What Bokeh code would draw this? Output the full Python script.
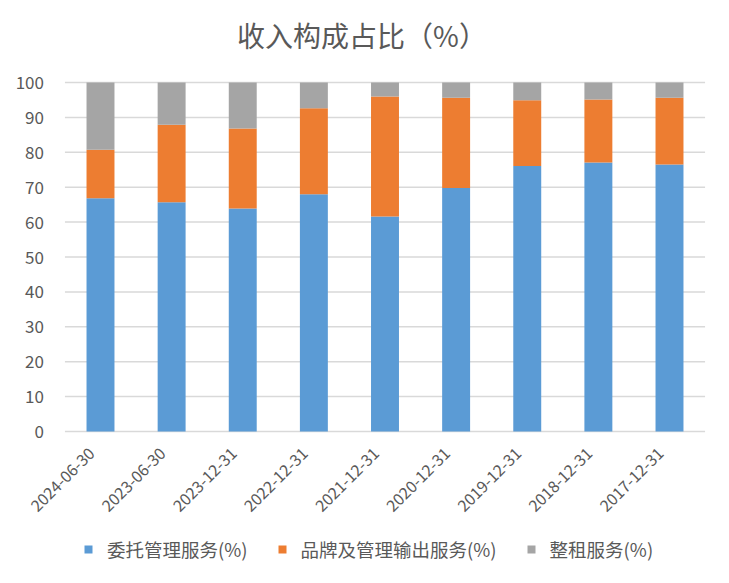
import math
from bokeh.plotting import figure
from bokeh.models import ColumnDataSource, Legend, LegendItem, Range1d
from bokeh.embed import file_html
from bokeh.resources import INLINE
from bokeh.core.properties import value

categories = ["2024-06-30", "2023-06-30", "2023-12-31", "2022-12-31", "2021-12-31",
              "2020-12-31", "2019-12-31", "2018-12-31", "2017-12-31"]
trust = [66.8, 65.7, 63.9, 68.0, 61.6, 69.8, 76.1, 77.1, 76.5]
brand = [13.9, 22.2, 22.9, 24.6, 34.4, 25.8, 18.8, 18.0, 19.1]
lease = [19.3, 12.1, 13.2, 7.4, 4.0, 4.4, 5.1, 4.9, 4.4]
series_names = ["委托管理服务(%)", "品牌及管理输出服务(%)", "整租服务(%)"]
y_ticks = [0, 10, 20, 30, 40, 50, 60, 70, 80, 90, 100]
title_text = "收入构成占比（%）"

colors = ["#5B9BD5", "#ED7D31", "#A5A5A5"]
FONT = "Noto Sans CJK SC"
TXT = "#595959"
GRID = "#D9D9D9"

# canvas geometry (pixels)
W, H = 713, 567
X_FIRST, X_LAST = 100, 669        # centres of first / last category
Y_TOP, Y_ZERO = 82, 431           # pixel rows of value 100 and value 0

n = len(categories)
px_per_cat = (X_LAST - X_FIRST) / (n - 1)
px_per_unit = (Y_ZERO - Y_TOP) / 100.0
x_range = Range1d(-X_FIRST / px_per_cat, (n - 1) + (W - X_LAST) / px_per_cat)
y_range = Range1d(-(H - Y_ZERO) / px_per_unit, 100 + Y_TOP / px_per_unit)

xpos = list(range(n))
source = ColumnDataSource(dict(x=xpos, cat=categories, trust=trust, brand=brand,
                               lease=lease, base=[0] * n))

p = figure(x_range=x_range, y_range=y_range, width=W, height=H,
           output_backend="svg", toolbar_location=None,
           x_axis_location=None, y_axis_location=None, min_border=0)
p.outline_line_color = None
p.xgrid.visible = False
p.ygrid.visible = False

# horizontal gridlines spanning the category band
p.segment(x0=-0.5, x1=n - 0.5, y0=y_ticks, y1=y_ticks, line_color=GRID, line_width=1.5)

renderers = p.vbar_stack(["trust", "brand", "lease"], x="x", width=0.393,
                         color=colors, line_color=None, source=source)

# value-axis labels
p.text(x=-0.5, y=y_ticks, text=[str(t) for t in y_ticks], x_offset=-21,
       text_align="right", text_baseline="middle",
       text_font=value(FONT), text_font_size="17px", text_color=TXT)

# category labels, rotated 45 degrees below the zero line
p.text(x="x", y="base", text="cat", source=source, angle=math.pi / 4,
       text_align="right", text_baseline="middle", x_offset=-9, y_offset=19,
       text_font=value(FONT), text_font_size="16px", text_color=TXT)

# chart title
p.text(x=[(n - 1) / 2], y=[100], text=[title_text], x_offset=-23, y_offset=-48,
       text_align="center", text_baseline="middle",
       text_font=value(FONT), text_font_size="28px", text_color=TXT)

items = [LegendItem(label=s, renderers=[r]) for s, r in zip(series_names, renderers)]
legend = Legend(items=items, orientation="horizontal", location=(83, 5),
                glyph_width=10, glyph_height=10, label_standoff=14, spacing=29,
                label_text_font=FONT, label_text_font_size="18.5px", label_text_color=TXT,
                border_line_color=None, background_fill_alpha=0, padding=0, margin=0)
p.add_layout(legend, "center")

open("out.html", "w").write(file_html(p, INLINE))
